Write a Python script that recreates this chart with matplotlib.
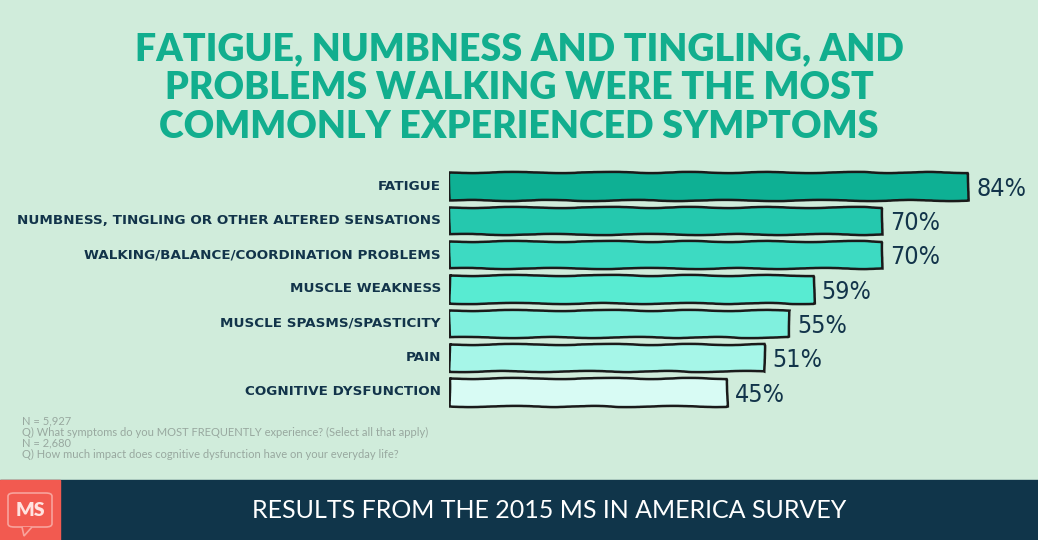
import matplotlib
matplotlib.use("Agg")
import matplotlib.pyplot as plt
from matplotlib.patches import Rectangle, FancyBboxPatch, Polygon

# data
symptoms = [
    "FATIGUE",
    "NUMBNESS, TINGLING OR OTHER ALTERED SENSATIONS",
    "WALKING/BALANCE/COORDINATION PROBLEMS",
    "MUSCLE WEAKNESS",
    "MUSCLE SPASMS/SPASTICITY",
    "PAIN",
    "COGNITIVE DYSFUNCTION",
]
pct = [84, 70, 70, 59, 55, 51, 45]
bar_colors = ["#0eb094", "#25c8ae", "#3ddac2", "#58ebd2", "#80f0de", "#a6f6e8", "#d8fbf4"]

title = ("FATIGUE, NUMBNESS AND TINGLING, AND\n"
         "PROBLEMS WALKING WERE THE MOST\n"
         "COMMONLY EXPERIENCED SYMPTOMS")
notes = [
    "N = 5,927",
    "Q) What symptoms do you MOST FREQUENTLY experience? (Select all that apply)",
    "N = 2,680",
    "Q) How much impact does cognitive dysfunction have on your everyday life?",
]
footer = "RESULTS FROM THE 2015 MS IN AMERICA SURVEY"

BG = "#d0ecdb"
NAVY = "#12344a"
TEAL = "#12ae8e"
W, H = 1038, 540

fig = plt.figure(figsize=(W / 100, H / 100), dpi=100, facecolor=BG)

# title
fig.text(0.5, 1 - 88 / H, title, ha="center", va="center", color=TEAL,
         fontsize=27, fontweight="heavy", family=["Lato", "DejaVu Sans"],
         linespacing=1.18)

# bar axes: x=0 at px 449, 6.18 px per percent
left, right = 449, 1009
top, bottom = 169, 409
ax = fig.add_axes([left / W, 1 - bottom / H, (right - left) / W, (bottom - top) / H])
ax.set_facecolor("none")
ax.set_xlim(0, (right - left) / 6.18)
ax.set_ylim(len(pct) - 0.5, -0.5)
ax.axis("off")

ys = range(len(pct))
bars = ax.barh(ys, pct, height=0.8, color=bar_colors, edgecolor="#1a1a1a", linewidth=1.8)
for b in bars:
    b.set_sketch_params(scale=0.6, length=120, randomness=4)

for y, p, name in zip(ys, pct, symptoms):
    ax.text(p + 1.3, y + 0.08, f"{p}%", ha="left", va="center", color=NAVY,
            fontsize=18, fontstretch="condensed", fontweight="light",
            family=["DejaVu Sans"])
    ax.text(-1.3, y, name, ha="right", va="center", color=NAVY,
            fontsize=9.7, fontweight="bold", family=["DejaVu Sans"])

# notes
for i, n in enumerate(notes):
    fig.text(22 / W, 1 - (421 + i * 11) / H, n, ha="left", va="center",
             color="#98a89f", fontsize=8, family=["Lato", "DejaVu Sans"])

# footer band + logo
fig.patches.append(Rectangle((0, 0), 1, 60 / H, transform=fig.transFigure,
                             color="#10354a", zorder=0))
fig.patches.append(Rectangle((0, 0), 60 / W, 60 / H, transform=fig.transFigure,
                             color="#f25a50", zorder=1))
fig.patches.append(FancyBboxPatch((8 / W, 1 - 527 / H), 44 / W, 34 / H,
                                  boxstyle="round,pad=0,rounding_size=0.006",
                                  transform=fig.transFigure, facecolor="none",
                                  edgecolor="#f8a39c", linewidth=1.2, zorder=2))
fig.patches.append(Polygon([(22 / W, 1 - 527 / H), (24 / W, 1 - 536 / H), (32 / W, 1 - 527 / H)],
                           closed=False, transform=fig.transFigure, facecolor="#f25a50",
                           edgecolor="#f8a39c", linewidth=1.2, zorder=3))
fig.text(30 / W, 1 - 510 / H, "MS", ha="center", va="center", color="#ffe3e0",
         fontsize=14, fontweight="heavy", family=["Lato", "DejaVu Sans"], zorder=4)

fig.text(549 / W, 1 - 510 / H, footer, ha="center", va="center", color="white",
         fontsize=18, fontweight="normal", family=["Lato", "DejaVu Sans"])

fig.savefig("out.png", dpi=100, facecolor=BG)
